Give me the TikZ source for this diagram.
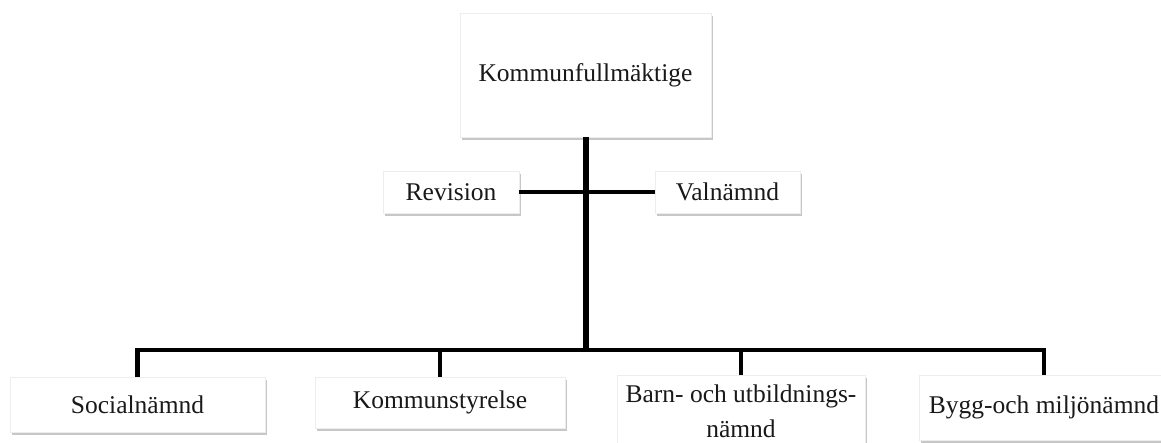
\documentclass[tikz,border=0pt]{standalone}
\usepackage{fontspec}
\setmainfont{Liberation Serif}
\usetikzlibrary{shadows}
\begin{document}
\begin{tikzpicture}[x=1pt,y=-1pt,
  orgbox/.style={rectangle, fill=white, draw=black!7, line width=0.6pt,
    inner sep=0pt, font=\fontsize{25.5}{35}\selectfont, text=black!90,
    drop shadow={shadow xshift=1.5pt, shadow yshift=-3pt, fill=black, opacity=0.22}},
  conn/.style={draw=black, line width=4.5pt},
  trunk/.style={draw=black, line width=6pt}]
\useasboundingbox (0,0) rectangle (1161,443);
\node[orgbox, minimum width=251pt, minimum height=124pt] (kf) at (585.5,75) {Kommunfullmäktige};
\node[orgbox, minimum width=136pt, minimum height=42pt] (rev) at (451,192) {Revision};
\node[orgbox, minimum width=145pt, minimum height=42pt] (val) at (727.5,192) {Valnämnd};
\node[orgbox, minimum width=255pt, minimum height=55pt] (soc) at (137.5,404.5) {Socialnämnd};
\node[orgbox, minimum width=250pt, minimum height=51pt] (ks) at (440,402.5) {Kommunstyrelse};
\node[orgbox, minimum width=248pt, minimum height=72pt, align=center] (barn) at (741,411) {Barn- och utbildnings-\\nämnd};
\node[orgbox, minimum width=250pt, minimum height=65pt] (bygg) at (1044,407.5) {Bygg-och miljönämnd};
\coordinate (bar) at (585.5,350);
\draw[conn] (rev.east) -- (val.west);
\draw[conn] (soc.north) -- (soc.north |- bar) -- (bygg.north |- bar) -- (bygg.north);
\draw[conn] (ks.north |- bar) -- (ks.north);
\draw[conn] (barn.north |- bar) -- (barn.north);
\draw[trunk] (kf.south) -- ([yshift=2pt]bar);
\end{tikzpicture}
\end{document}
